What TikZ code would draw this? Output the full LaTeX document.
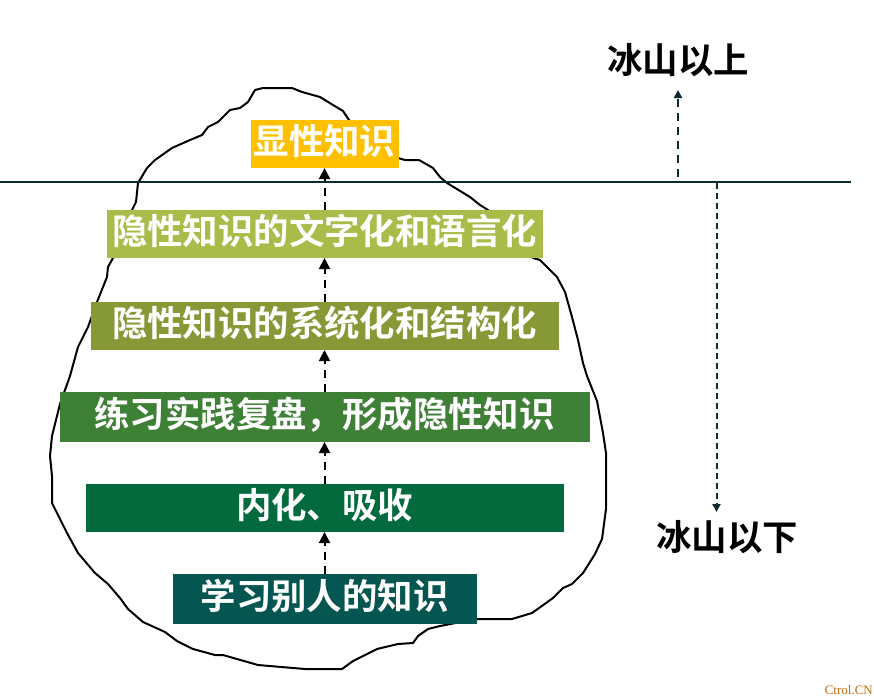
\documentclass[tikz,border=0pt]{standalone}
\usepackage{fontspec}
\setmainfont{Noto Sans CJK SC}[BoldFont={Noto Sans CJK SC Bold}]
\newfontfamily\markfont{Liberation Serif}
\usepackage{tikz}
\usetikzlibrary{positioning, arrows.meta}

\definecolor{waterc}{HTML}{0B2B33}
\definecolor{markc}{HTML}{C06C10}
\definecolor{c1}{HTML}{FFC000}
\definecolor{c2}{HTML}{A9BC4A}
\definecolor{c3}{HTML}{879937}
\definecolor{c4}{HTML}{3F8037}
\definecolor{c5}{HTML}{036A3E}
\definecolor{c6}{HTML}{055550}
\tikzset{
	level/.style={fill=#1, text=white, inner sep=0pt, outer sep=0pt, minimum height=48pt, text height=29pt, text depth=8pt, font=\fontsize{35.4}{36}\selectfont\bfseries},
	lift/.style={dash pattern=on 8pt off 6pt, line width=2pt, -{Triangle[length=11pt,width=11pt]}},
	tide/.style={waterc, line width=2pt, -{Triangle[length=8pt,width=8pt]}},
	side/.style={font=\fontsize{35.4}{36}\selectfont\bfseries},
}

\begin{document}
\begin{tikzpicture}[x=1pt, y=-1pt]
	\useasboundingbox (0,0) rectangle (874,696);
	% iceberg
	\draw [line width=2pt, line join=round]
		(255,90) -- (263,88) -- (292,88) -- (302,92) -- (320,97) -- (333,105) -- (343,111) -- (349,120)
		-- (398,158) -- (405,160) -- (419,160) -- (433,168) -- (440,177) -- (447,183) -- (470,197) -- (480,205) -- (488,210)
		-- (533,258) -- (540,260) -- (557,277) -- (565,292) -- (572,317) -- (578,340) -- (583,363) -- (587,376)
		-- (597,401) -- (603,433) -- (606,453) -- (606,509) -- (602,539) -- (595,554) -- (583,573) -- (572,584)
		-- (563,588) -- (553,598) -- (532,613) -- (512,619) -- (476,619) -- (440,626) -- (428,629) -- (418,636)
		-- (413,643) -- (398,644) -- (377,649) -- (353,661) -- (342,669) -- (305,669) -- (258,665) -- (223,655)
		-- (215,655) -- (193,649) -- (177,641) -- (165,632) -- (143,622) -- (128,609) -- (120,598) -- (108,584)
		-- (95,573) -- (78,553) -- (67,533) -- (52,503) -- (52,476) -- (50,456) -- (52,436) -- (60,404) -- (70,376)
		-- (78,347) -- (88,327) -- (97,302) -- (107,277) -- (108,267) -- (113,258) -- (132,210) -- (136,202)
		-- (138,183) -- (147,168) -- (155,160) -- (172,148) -- (190,140) -- (202,135) -- (208,127) -- (218,122)
		-- (230,110) -- (240,108) -- (248,102) -- cycle;

	\node (k1) [level=c1, minimum width=148pt] at (324.5,144) {显性知识};
	\node (k2) [level=c2, minimum width=436pt, below=42pt of k1] {隐性知识的文字化和语言化};
	\node (k3) [level=c3, minimum width=468pt, below=44pt of k2] {隐性知识的系统化和结构化};
	\node (k4) [level=c4, minimum width=530pt, minimum height=50pt, below=42pt of k3] {练习实践复盘，形成隐性知识};
	\node (k5) [level=c5, minimum width=478pt, below=42pt of k4] {内化、吸收};
	\node (k6) [level=c6, minimum width=304pt, minimum height=50pt, below=42pt of k5] {学习别人的知识};
	\path
		(k6) edge [lift] (k5)
		(k5) edge [lift] (k4)
		(k4) edge [lift] (k3)
		(k3) edge [lift] (k2)
		(k2) edge [lift] (k1)
	;

	% water line and the two sides
	\coordinate (w1) at (0,182);
	\coordinate (w2) at (851,182);
	\draw [waterc, line width=2pt] (w1) -- (w2);
	\node (above) [side] at (678,60) {冰山以上};
	\node (below) [side] at (727,537) {冰山以下};
	\coordinate (up1) at (678,177);
	\coordinate (up2) at (678,90);
	\coordinate (down1) at (716.5,183);
	\coordinate (down2) at (716.5,512);
	\draw [tide, dash pattern=on 8pt off 6pt] (up1) -- (up2);
	\draw [tide, dash pattern=on 6pt off 4pt] (down1) -- (down2);

	\node (mark) [text=markc, font=\markfont\fontsize{13}{13}\selectfont, anchor=base east, inner sep=0pt] at (873,694) {Ctrol.CN};
\end{tikzpicture}
\end{document}
